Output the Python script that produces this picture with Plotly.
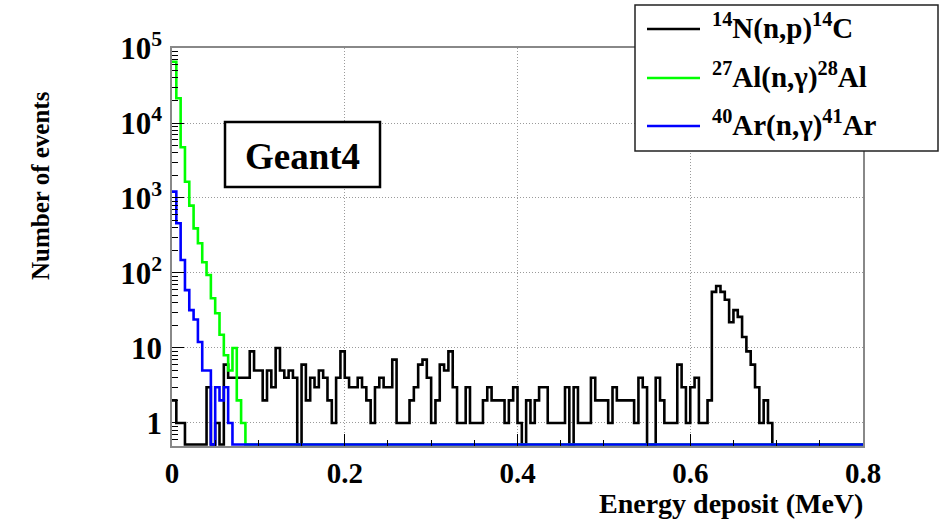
import numpy as np
import plotly.graph_objects as go

# ---------------- data (bin contents, 0.005 MeV bins from 0 to 0.8 MeV) ----------------
bin_width = 0.005
n_bins = 160

n14_counts = [2, 1, 1, 0, 0, 0, 0, 0, 3, 0,
              1, 0, 6, 4, 4, 4, 4, 4, 9, 5,
              5, 2, 5, 3, 10, 5, 4, 5, 4, 0,
              6, 2, 4, 3, 5, 4, 2, 1, 4, 9,
              4, 3, 3, 4, 3, 2, 1, 3, 4, 3,
              3, 7, 1, 1, 1, 2, 3, 6, 7, 4,
              1, 2, 6, 5, 9, 3, 1, 1, 3, 1,
              1, 1, 2, 3, 2, 2, 2, 1, 2, 3,
              1, 0, 2, 1, 2, 3, 3, 1, 1, 1,
              1, 3, 0, 3, 1, 1, 1, 4, 2, 2,
              2, 1, 3, 2, 2, 2, 2, 1, 4, 3,
              0, 0, 4, 2, 1, 1, 1, 6, 3, 1,
              3, 4, 1, 1, 2, 56, 67, 56, 44, 22,
              32, 26, 14, 9, 6, 3, 1, 2, 1]
al27_counts = [65600, 21400, 4740, 1650, 790, 394, 249, 139, 94, 46,
               29, 15, 8, 5, 10, 2, 1]
ar40_counts = [1214, 460, 149, 59, 32, 24, 12, 5, 5, 0,
               3, 2, 3, 1]

series_names = ["<sup>14</sup>N(n,p)<sup>14</sup>C",
                "<sup>27</sup>Al(n,γ)<sup>28</sup>Al",
                "<sup>40</sup>Ar(n,γ)<sup>41</sup>Ar"]
series_colors = ["#000000", "#00ff00", "#0000ff"]

x_tick_vals = [0, 0.2, 0.4, 0.6, 0.8]
x_tick_text = ["0", "0.2", "0.4", "0.6", "0.8"]
y_tick_vals = [1, 10, 100, 1000, 10000, 100000]
y_tick_text = ["1", "10", "10<sup>2</sup>", "10<sup>3</sup>", "10<sup>4</sup>", "10<sup>5</sup>"]

# ---------------- geometry ----------------
W, H = 942, 520
L, R, T, B = 172, 863, 48, 446
ylog_min, ylog_max = -0.307, 5.0
FONT = "Liberation Serif"


def px(x):
    return (x - L) / (R - L)


def py(y):
    return (B - y) / (B - T)


edges = np.arange(n_bins + 1) * bin_width
floor_val = 10 ** (ylog_min + 0.02)


def hist_xy(counts):
    c = np.zeros(n_bins)
    c[:len(counts)] = counts
    c = np.where(c > 0, c, floor_val)
    return edges, np.append(c, c[-1])


fig = go.Figure()
for counts, name, col in zip([n14_counts, al27_counts, ar40_counts], series_names, series_colors):
    xs, ys = hist_xy(counts)
    fig.add_trace(go.Scatter(x=xs, y=ys, mode="lines", line=dict(color=col, width=2.6, shape="hv"),
                             name=name, showlegend=False))

minor_y = [m * 10 ** k for k in range(-1, 5) for m in range(2, 10)]
minor_y = [v for v in minor_y if ylog_min < np.log10(v) < ylog_max]

GRID = dict(showgrid=True, gridcolor="#9a9a9a", griddash="1px,2px", gridwidth=1)
fig.update_xaxes(range=[0, 0.8], tickmode="array", tickvals=x_tick_vals, ticktext=x_tick_text,
                 ticks="inside", ticklen=12, tickwidth=1, tickcolor="#000",
                 minor=dict(ticks="inside", ticklen=6, tickcolor="#000", dtick=0.05, showgrid=False),
                 showline=True, linecolor="#888", linewidth=1.5, mirror=True, zeroline=False,
                 tickfont=dict(family=FONT, size=29, color="#000", weight="bold"), **GRID)
fig.update_yaxes(type="log", range=[ylog_min, ylog_max], tickmode="array", tickvals=y_tick_vals,
                 ticktext=y_tick_text, ticks="inside", ticklen=12, tickwidth=1, tickcolor="#000",
                 minor=dict(ticks="inside", ticklen=6, tickcolor="#000", tickmode="array", tickvals=minor_y,
                            showgrid=False),
                 showline=True, linecolor="#888", linewidth=1.5, mirror=True, zeroline=False,
                 ticklabelstandoff=2,
                 tickfont=dict(family=FONT, size=31, color="#000", weight="bold"), **GRID)

shapes = []
annotations = []
# Geant4 box
shapes.append(dict(type="rect", xref="paper", yref="paper", x0=px(225), x1=px(380), y0=py(187), y1=py(122),
                   line=dict(color="#000", width=2.5), fillcolor="#fff", layer="above"))
annotations.append(dict(text="<b>Geant4</b>", xref="paper", yref="paper", x=px(302.5), y=py(156),
                        xanchor="center", yanchor="middle", showarrow=False,
                        font=dict(family=FONT, size=37, color="#000")))
# legend box
shapes.append(dict(type="rect", xref="paper", yref="paper", x0=px(635), x1=px(938), y0=py(151), y1=py(5),
                   line=dict(color="#222", width=1.5), fillcolor="#fff", layer="above"))
for i, (name, col) in enumerate(zip(series_names, series_colors)):
    yy = [29, 78, 126][i]
    shapes.append(dict(type="line", xref="paper", yref="paper", x0=px(647), x1=px(700), y0=py(yy), y1=py(yy),
                       line=dict(color=col, width=2.6), layer="above"))
    annotations.append(dict(text="<b>" + name + "</b>", xref="paper", yref="paper", x=px(710), y=py(yy - 3),
                            xanchor="left", yanchor="middle", showarrow=False,
                            font=dict(family=FONT, size=29, color="#000")))
# axis titles
annotations.append(dict(text="<b>Energy deposit (MeV)</b>", xref="paper", yref="paper", x=px(864), y=py(520),
                        xanchor="right", yanchor="bottom", showarrow=False, borderpad=0,
                        font=dict(family=FONT, size=28, color="#000")))
annotations.append(dict(text="<b>Number of events</b>", xref="paper", yref="paper", x=px(41), y=py(186),
                        xanchor="center", yanchor="middle", textangle=-90, showarrow=False,
                        font=dict(family=FONT, size=25, color="#000")))

fig.update_layout(width=W, height=H, margin=dict(l=L, r=W - R, t=T, b=H - B, pad=0),
                  paper_bgcolor="#fff", plot_bgcolor="#fff", showlegend=False,
                  shapes=shapes, annotations=annotations)

fig.write_html("out.html")
